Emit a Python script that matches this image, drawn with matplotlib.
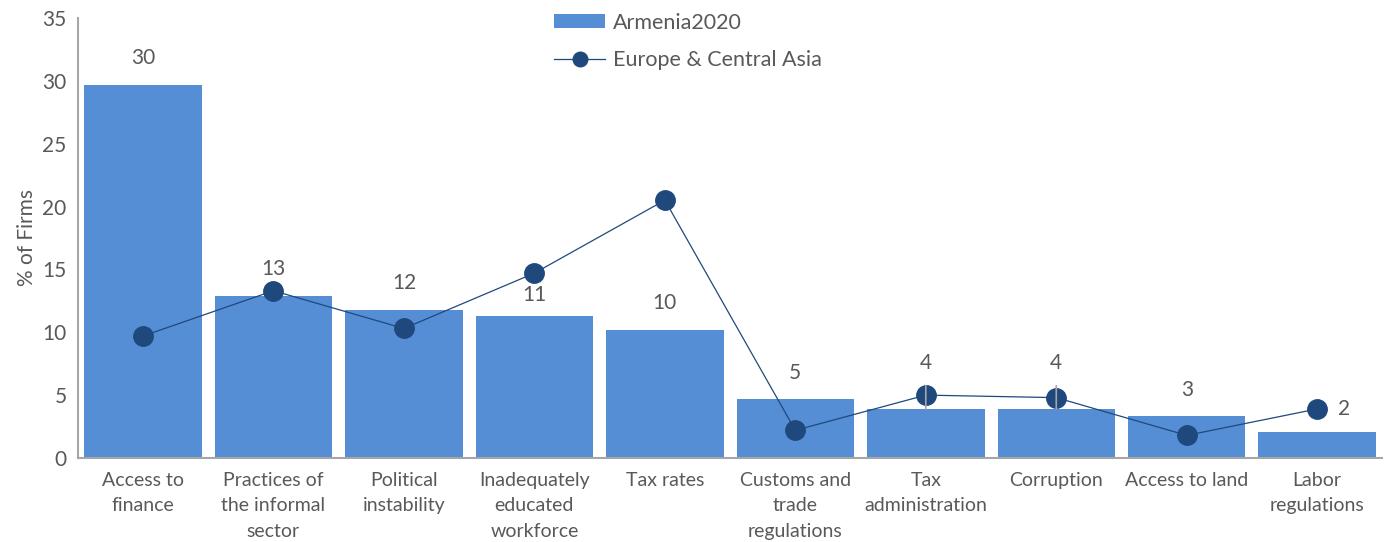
import numpy as np
import matplotlib.pyplot as plt

categories = ["Access to\nfinance", "Practices of\nthe informal\nsector", "Political\ninstability",
              "Inadequately\neducated\nworkforce", "Tax rates", "Customs and\ntrade\nregulations",
              "Tax\nadministration", "Corruption", "Access to land", "Labor\nregulations"]
armenia = [29.7, 12.9, 11.8, 11.3, 10.2, 4.7, 3.9, 3.9, 3.3, 2.1]
armenia_labels = ["30", "13", "12", "11", "10", "5", "4", "4", "3", "2"]
eca = [9.7, 13.3, 10.3, 14.7, 20.5, 2.2, 5.0, 4.8, 1.8, 3.9]

plt.rcParams['font.family'] = ['Lato', 'DejaVu Sans']
text_col = "#595959"

fig = plt.figure(figsize=(13.88, 5.42), dpi=100)
ax = fig.add_axes([0.056, 0.155, 0.940, 0.812])

x = np.arange(len(categories))
bars = ax.bar(x, armenia, width=0.9, color="#558ED5", label="Armenia2020", zorder=2)
line, = ax.plot(x, eca, color="#1F497D", lw=0.9, marker="o", markersize=14,
                markerfacecolor="#1F497D", markeredgecolor="#1F497D",
                label="Europe & Central Asia", zorder=3)

# data labels
for i, (v, lab) in enumerate(zip(armenia, armenia_labels)):
    if i == len(armenia) - 1:
        ax.annotate(lab, (x[i], eca[i]), xytext=(19, 0), textcoords="offset points",
                    ha="center", va="center", fontsize=15, color=text_col)
    elif lab == "4":
        ax.annotate(lab, (x[i], v), xytext=(0, 33), textcoords="offset points",
                    ha="center", va="center", fontsize=15, color=text_col,
                    arrowprops=dict(arrowstyle="-", color="#A6A6A6", lw=1.2,
                                    shrinkA=7, shrinkB=0))
    else:
        off = 15 if lab == "11" else 19
        ax.annotate(lab, (x[i], v), xytext=(0, off), textcoords="offset points",
                    ha="center", va="center", fontsize=15, color=text_col)

ax.set_xlim(-0.5, len(categories) - 0.5)
ax.set_ylim(0, 35)
ax.set_yticks(range(0, 36, 5))
ax.set_xticks(x)
ax.set_xticklabels(categories, fontsize=14, color=text_col, linespacing=1.6)
ax.tick_params(axis="y", labelsize=15, labelcolor=text_col, length=0, pad=8)
ax.tick_params(axis="x", length=0, pad=10)
ax.set_ylabel("% of Firms", fontsize=15, color=text_col, labelpad=4)

for s in ["top", "right"]:
    ax.spines[s].set_visible(False)
for s in ["left", "bottom"]:
    ax.spines[s].set_color("#A6A6A6")
    ax.spines[s].set_linewidth(1.5)

ax.legend(handles=[bars, line], loc="upper left", bbox_to_anchor=(0.385, 1.012),
          bbox_transform=fig.transFigure, frameon=False, fontsize=15.5, labelcolor=text_col,
          handlelength=2.4, handleheight=0.6, handletextpad=0.35, labelspacing=0.8,
          markerscale=0.75)

fig.savefig("out.png", dpi=100)
